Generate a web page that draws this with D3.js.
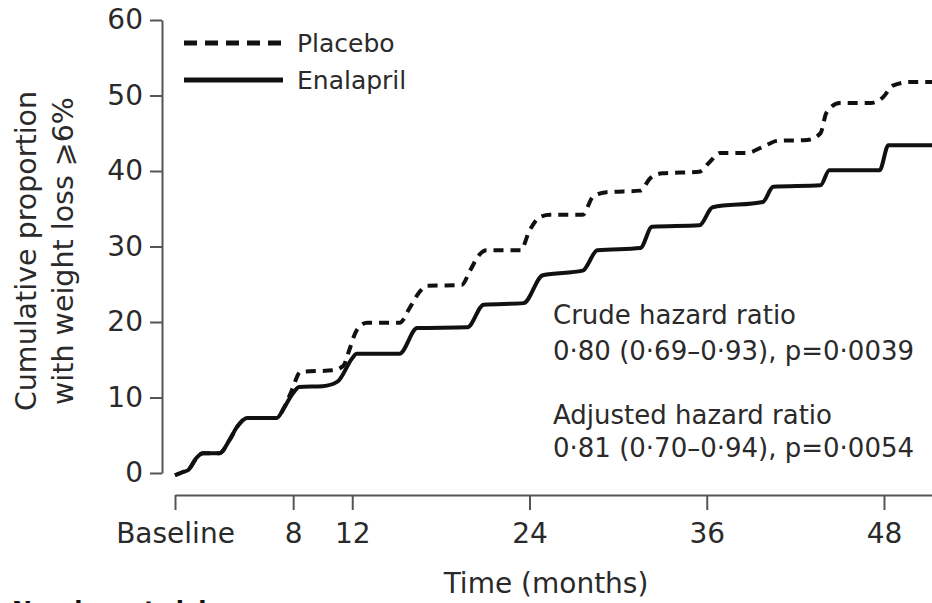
<!DOCTYPE html>
<html>
<head>
<meta charset="utf-8">
<script src="https://cdn.jsdelivr.net/npm/d3@7"></script>
<style>
  body { margin: 0; background: #fff; }
  svg { display: block; font-family: 'DejaVu Sans', sans-serif; }
</style>
</head>
<body>
<div id="chart"></div>
<script>
// months / cumulative %
const enalaprilMonths = [0, 0.5, 0.9, 1.5, 1.9, 3.0, 3.7, 4.2, 4.9, 6.9, 7.4, 8.0, 8.4, 10.0, 11.0, 12.0, 12.3, 15.2, 16.4, 19.8, 20.9, 23.6, 24.9, 27.6, 28.6, 31.5, 32.3, 35.5, 36.4, 39.8, 40.5, 43.7, 44.3, 47.7, 48.3, 51.25]
const enalaprilValues = [-0.3, 0.1, 0.4, 2.1, 2.6, 2.6, 4.4, 6.1, 7.3, 7.3, 8.7, 10.6, 11.4, 11.5, 12.1, 15.2, 15.8, 15.8, 19.2, 19.3, 22.3, 22.5, 26.2, 26.8, 29.5, 29.8, 32.6, 32.8, 35.2, 35.9, 37.9, 38.1, 40.1, 40.1, 43.4, 43.4]

const placeboMonths = [0, 0.5, 0.9, 1.5, 1.9, 3.0, 3.7, 4.2, 4.9, 6.9, 7.4, 7.9, 8.5, 10.7, 11.4, 11.8, 12.3, 13.0, 15.2, 15.9, 16.6, 17.1, 19.4, 20.0, 20.6, 21.1, 23.4, 24.0, 24.7, 25.4, 27.6, 28.3, 29.2, 31.5, 32.2, 33.0, 35.5, 36.2, 36.9, 38.7, 39.9, 40.8, 42.8, 43.7, 44.1, 45.0, 47.1, 47.9, 48.6, 49.8, 51.25]
const placeboValues = [-0.3, 0.1, 0.4, 2.1, 2.6, 2.6, 4.4, 6.1, 7.3, 7.3, 8.7, 10.9, 13.4, 13.6, 14.2, 16.3, 18.9, 19.9, 19.9, 21.9, 24.1, 24.8, 24.9, 26.9, 28.9, 29.5, 29.5, 32.1, 33.9, 34.2, 34.2, 36.6, 37.2, 37.4, 39.1, 39.7, 39.9, 41.2, 42.4, 42.4, 43.3, 44.0, 44.1, 45.0, 47.7, 49.0, 49.0, 49.7, 51.3, 51.8, 51.8]

const xTickValues = [0, 8, 12, 24, 36, 48]
const xTickLabels = ['Baseline', '8', '12', '24', '36', '48']
const yTickValues = [0, 10, 20, 30, 40, 50, 60]

const seriesNames = ['Placebo', 'Enalapril']
const annotationLines = [
    'Crude hazard ratio',
    '0·80 (0·69–0·93), p=0·0039',
    'Adjusted hazard ratio',
    '0·81 (0·70–0·94), p=0·0054'
]

const width = 932
const height = 603
const axisColor = '#555'
const textColor = '#2a2a2a'

const svg = d3.select('#chart').append('svg')
    .attr('width', width)
    .attr('height', height)
    .attr('viewBox', `0 0 ${width} ${height}`)

const x = d3.scaleLinear().domain([0, 51.25]).range([175, 932])
const y = d3.scaleLinear().domain([0, 60]).range([473, 20])

// y axis
const yAxis = svg.append('g')
    .attr('transform', 'translate(162,0)')
    .call(d3.axisLeft(y).tickValues(yTickValues).tickSize(12).tickSizeOuter(0).tickPadding(7))
yAxis.select('.domain').attr('stroke', axisColor).attr('stroke-width', 2)
yAxis.selectAll('.tick line').attr('stroke', axisColor).attr('stroke-width', 2)
yAxis.selectAll('.tick text').attr('fill', textColor).style('font-size', '28px').style('font-family', "'DejaVu Sans', sans-serif")

// x axis (detached from y axis)
const xAxis = svg.append('g')
    .attr('transform', 'translate(0,495)')
    .call(d3.axisBottom(x).tickValues(xTickValues)
        .tickFormat((d, i) => xTickLabels[i])
        .tickSize(15).tickSizeOuter(0).tickPadding(13))
xAxis.select('.domain').attr('stroke', axisColor).attr('stroke-width', 2)
xAxis.selectAll('.tick text').attr('fill', textColor).style('font-size', '28px').style('font-family', "'DejaVu Sans', sans-serif")
xAxis.selectAll('.tick line').attr('stroke', axisColor).attr('stroke-width', 2)

svg.append('text')
    .attr('x', 546).attr('y', 593)
    .attr('text-anchor', 'middle')
    .attr('fill', textColor)
    .style('font-size', '28px')
    .text('Time (months)')

// y axis title, two lines
const yTitle = svg.append('text')
    .attr('transform', 'translate(36,251) rotate(-90)')
    .attr('text-anchor', 'middle')
    .attr('fill', textColor)
    .style('font-size', '28.5px')
yTitle.append('tspan').attr('x', 0).attr('y', 0).text('Cumulative proportion')
yTitle.append('tspan').attr('x', 0).attr('y', 37).text('with weight loss ⩾6%')

// curves
const line = d3.line()
    .x(d => x(d[0]))
    .y(d => y(d[1]))
    .curve(d3.curveMonotoneX)

const placebo = placeboMonths.map((m, i) => [m, placeboValues[i]])
const enalapril = enalaprilMonths.map((m, i) => [m, enalaprilValues[i]])

svg.append('path')
    .datum(enalapril)
    .attr('d', line)
    .attr('fill', 'none')
    .attr('stroke', '#111')
    .attr('stroke-width', 4)

svg.append('path')
    .datum(placebo)
    .attr('d', line)
    .attr('fill', 'none')
    .attr('stroke', '#111')
    .attr('stroke-width', 4)
    .attr('stroke-dasharray', '10,7')

// legend
const legend = svg.append('g')
seriesNames.forEach((name, i) => {
    const ly = 43 + i * 37
    legend.append('line')
        .attr('x1', 184).attr('x2', 283)
        .attr('y1', ly).attr('y2', ly)
        .attr('stroke', '#111')
        .attr('stroke-width', 5)
        .attr('stroke-dasharray', name === 'Placebo' ? '13,8' : null)
    legend.append('text')
        .attr('x', 297).attr('y', ly + 9)
        .attr('fill', textColor)
        .style('font-size', '25px')
        .text(name)
})

// hazard ratio notes
const noteY = [324, 360, 424, 457]
annotationLines.forEach((t, i) => {
    svg.append('text')
        .attr('x', 553).attr('y', noteY[i])
        .attr('fill', textColor)
        .style('font-size', '26px')
        .text(t)
})

// start of the number-at-risk table, cut off by the frame as in the source
svg.append('text')
    .attr('x', 12).attr('y', 619)
    .attr('fill', '#111')
    .style('font-size', '24px')
    .style('font-weight', 'bold')
    .text('Number at risk')
</script>
</body>
</html>
